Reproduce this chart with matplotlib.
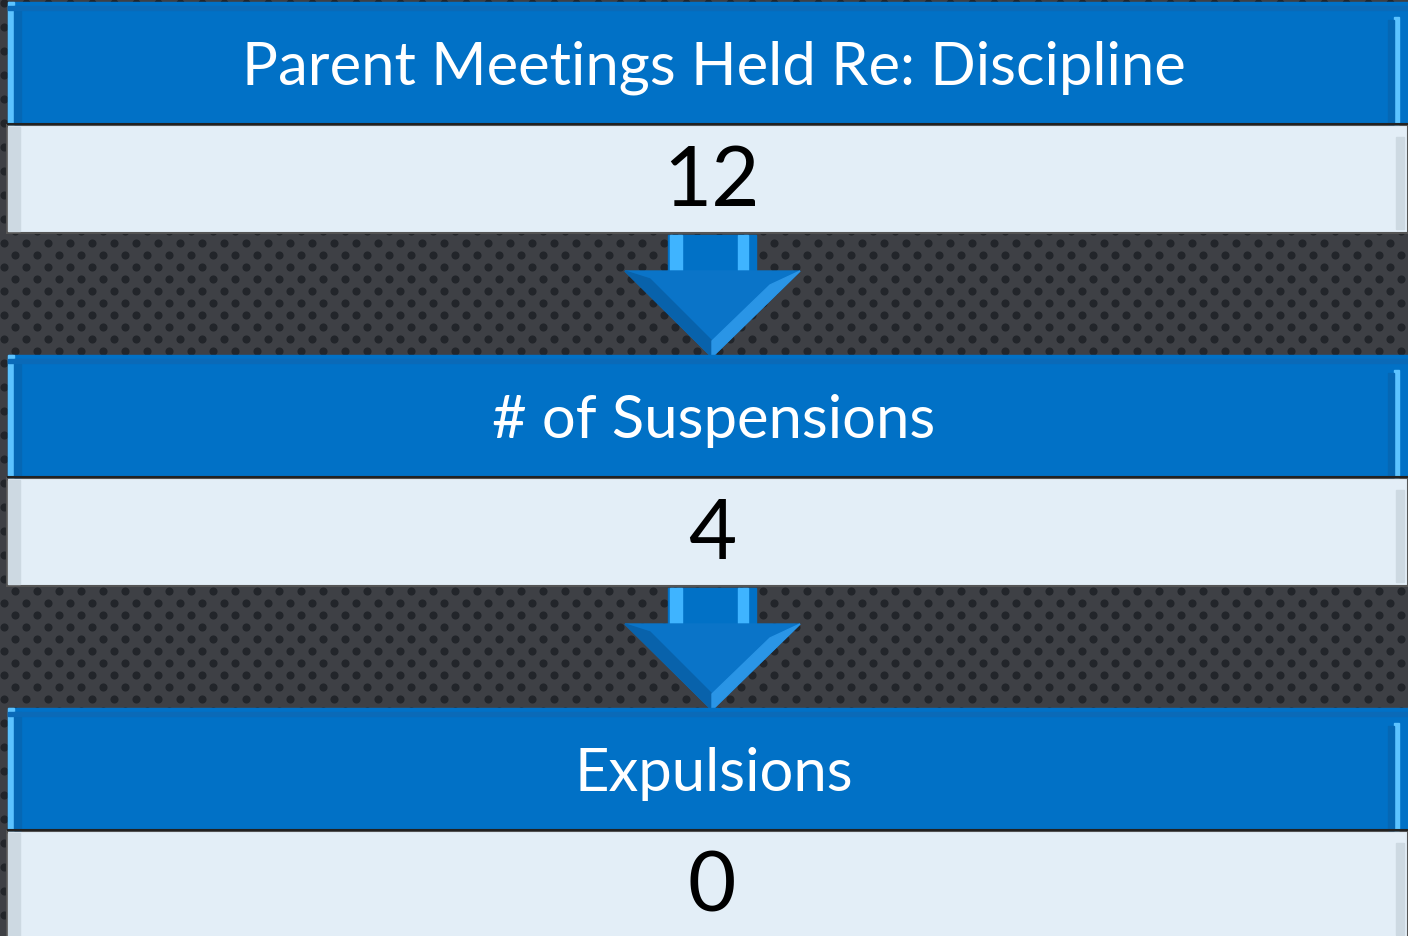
import matplotlib
matplotlib.use("Agg")
import matplotlib.pyplot as plt
from matplotlib.patches import Rectangle, Polygon
import numpy as np

# Data
labels = ["Parent Meetings Held Re: Discipline", "# of Suspensions", "Expulsions"]
values = [12, 4, 0]

W, H = 1408, 937
fig = plt.figure(figsize=(W / 100, H / 100), dpi=100)
ax = fig.add_axes([0, 0, 1, 1])
ax.set_xlim(0, W)
ax.set_ylim(H, 0)
ax.axis("off")

# background: dark perforated metal
bg = "#3e4045"
ax.add_patch(Rectangle((0, 0), W, H, color=bg, zorder=0))
gx, gy = np.meshgrid(np.arange(4, W, 22), np.arange(4, H, 24))
ax.scatter(gx.ravel(), gy.ravel(), s=34, color="#22252a", zorder=1, linewidths=0)
ax.scatter(gx.ravel() + 11, gy.ravel() + 12, s=34, color="#22252a", zorder=1, linewidths=0)

blue = "#0171c6"
light = "#e3eef7"
font = "Lato"

step = 353
for i, (lab, val) in enumerate(zip(labels, values)):
    y0 = 3 + i * step
    # blue header band
    ax.add_patch(Rectangle((8, y0), W - 8, 122, color=blue, zorder=3))
    ax.add_patch(Rectangle((8, y0), 6, 122, color="#5cc3ff", zorder=4))
    ax.add_patch(Rectangle((14, y0 + 4), 7, 118, color="#0567b4", zorder=4))
    ax.add_patch(Rectangle((W - 14, y0 + 15), 5, 107, color="#5cc3ff", zorder=4))
    ax.add_patch(Rectangle((W - 20, y0 + 18), 6, 104, color="#0567b4", zorder=4))
    ax.add_patch(Rectangle((8, y0 + 4), W - 8, 4, color="#0a6ab8", zorder=4))
    ax.plot([8, W], [y0 + 122, y0 + 122], color="#222", lw=1.5, zorder=5)
    ax.text(W / 2 + 10, y0 + 65, lab, color="white", fontsize=43, family=font,
            ha="center", va="center", zorder=6)
    # light value band
    ly = y0 + 123
    ax.add_patch(Rectangle((7, ly), W - 7, 108, facecolor=light, edgecolor="#555",
                           lw=1.5, zorder=3))
    ax.add_patch(Rectangle((8, ly + 2), 12, 104, color="#cdd9e2", zorder=4))
    ax.add_patch(Rectangle((W - 12, ly + 12), 8, 92, color="#cdd9e2", zorder=4))
    ax.text(W / 2 + 8, ly + 57, str(val), color="black", fontsize=60, family=font,
            ha="center", va="center", zorder=6)

    # arrow to next stage
    if i < len(labels) - 1:
        ay = ly + 110
        cx = 712
        shaft = Polygon([[668, ay], [756, ay], [756, ay + 36], [668, ay + 36]],
                        closed=True, color=blue, zorder=2)
        ax.add_patch(shaft)
        ax.add_patch(Rectangle((670, ay), 12, 50, color="#3fb4ff", zorder=2))
        ax.add_patch(Rectangle((738, ay), 10, 50, color="#3fb4ff", zorder=2))
        head = Polygon([[625, ay + 36], [800, ay + 36], [cx, ay + 122]],
                       closed=True, color="#0a74c8", zorder=2)
        ax.add_patch(head)
        ax.add_patch(Polygon([[650, ay + 44], [cx, ay + 106], [cx, ay + 122], [625, ay + 36]],
                             closed=True, color="#0862ab", zorder=2))
        ax.add_patch(Polygon([[cx, ay + 106], [770, ay + 50], [800, ay + 36], [cx, ay + 122]],
                             closed=True, color="#2a95e6", zorder=2))

fig.savefig("out.png", dpi=100, facecolor=bg)
